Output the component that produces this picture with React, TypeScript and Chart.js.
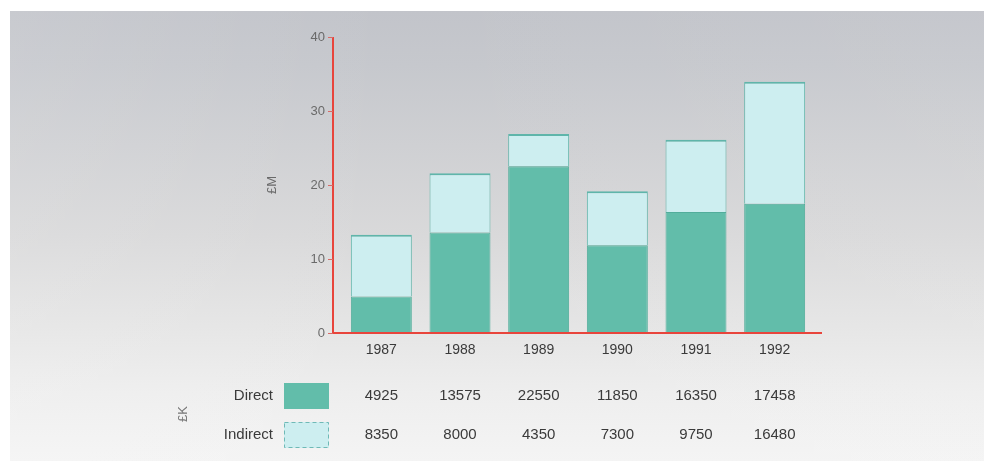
import React, { useEffect, useRef } from "react";
import { Chart, registerables } from "chart.js";

Chart.register(...registerables);

const years = ["1987", "1988", "1989", "1990", "1991", "1992"];
const directK = [4925, 13575, 22550, 11850, 16350, 17458];
const indirectK = [8350, 8000, 4350, 7300, 9750, 16480];
const seriesNames = ["Direct", "Indirect"];
const yMin = 0;
const yMax = 40;
const yStep = 10;
const yTitle = "£M";
const tableTitle = "£K";

const DIRECT_BG = "#62bdaa";
const DIRECT_BORDER = "#52ad9b";
const INDIRECT_BG = "#cdeef0";
const INDIRECT_BORDER = "#5fb5aa";
const RED = "#e8453c";
const FONT = "'Liberation Sans', Arial, sans-serif";

const backgroundPlugin = {
  id: "scanBackground",
  beforeDraw(chart: any) {
    const ctx = chart.ctx;
    const w = chart.width;
    const h = chart.height;
    ctx.save();
    ctx.fillStyle = "#ffffff";
    ctx.fillRect(0, 0, w, h);
    const g = ctx.createLinearGradient(0, 11, 0, h);
    g.addColorStop(0, "#c2c4ca");
    g.addColorStop(0.12, "#c6c8cd");
    g.addColorStop(0.3, "#cfd0d3");
    g.addColorStop(0.5, "#d9d9da");
    g.addColorStop(0.7, "#e5e5e5");
    g.addColorStop(0.85, "#eeeeee");
    g.addColorStop(1, "#f4f4f4");
    ctx.fillStyle = g;
    ctx.fillRect(10, 11, w - 10, h - 11);
    const hg = ctx.createLinearGradient(10, 0, w, 0);
    hg.addColorStop(0, "rgba(255,255,255,0.10)");
    hg.addColorStop(0.4, "rgba(255,255,255,0)");
    hg.addColorStop(1, "rgba(255,255,255,0.06)");
    ctx.fillStyle = hg;
    ctx.fillRect(10, 11, w - 10, h - 11);
    ctx.restore();
  },
};

const overlayPlugin = {
  id: "axesAndTable",
  afterDatasetsDraw(chart: any) {
    const ctx = chart.ctx;
    const xs = chart.scales.x;
    const ys = chart.scales.y;
    const y0 = ys.getPixelForValue(yMin);
    const yTop = ys.getPixelForValue(yMax);
    const axisX = xs.left - 9;
    ctx.save();
    // red axes
    ctx.strokeStyle = RED;
    ctx.lineWidth = 2;
    ctx.beginPath();
    ctx.moveTo(axisX, yTop);
    ctx.lineTo(axisX, y0);
    ctx.lineTo(xs.right + 8, y0);
    ctx.stroke();
    // tick marks
    ctx.lineWidth = 1;
    ctx.strokeStyle = "#d86a66";
    for (let v = yMin; v <= yMax; v += yStep) {
      const py = Math.round(ys.getPixelForValue(v)) + 0.5;
      ctx.beginPath();
      ctx.moveTo(axisX - 5, py);
      ctx.lineTo(axisX, py);
      ctx.stroke();
    }
    // y title
    ctx.fillStyle = "#6a6a6a";
    ctx.font = `13px ${FONT}`;
    ctx.textAlign = "center";
    ctx.textBaseline = "middle";
    ctx.translate(272, ys.getPixelForValue(20));
    ctx.rotate(-Math.PI / 2);
    ctx.fillText(yTitle, 0, 0);
    ctx.restore();

    // table
    ctx.save();
    const rows = [directK, indirectK];
    const rowY = [396, 435];
    ctx.font = `15px ${FONT}`;
    ctx.textBaseline = "middle";
    rows.forEach((vals, r) => {
      ctx.fillStyle = "#3a3a3a";
      ctx.textAlign = "right";
      ctx.fillText(seriesNames[r], 273, rowY[r]);
      // swatch
      const sx = 284;
      const sy = rowY[r] - 13;
      if (r === 0) {
        ctx.fillStyle = DIRECT_BG;
        ctx.fillRect(sx, sy, 45, 26);
      } else {
        ctx.fillStyle = INDIRECT_BG;
        ctx.fillRect(sx, sy, 45, 26);
        ctx.strokeStyle = "#6fb9b6";
        ctx.lineWidth = 1;
        ctx.setLineDash([4, 3]);
        ctx.strokeRect(sx + 0.5, sy + 0.5, 44, 25);
        ctx.setLineDash([]);
      }
      ctx.fillStyle = "#3a3a3a";
      ctx.textAlign = "center";
      vals.forEach((v, i) => {
        ctx.fillText(String(v), xs.getPixelForValue(i), rowY[r]);
      });
    });
    ctx.fillStyle = "#777777";
    ctx.font = `13px ${FONT}`;
    ctx.translate(183, 414);
    ctx.rotate(-Math.PI / 2);
    ctx.textAlign = "center";
    ctx.fillText(tableTitle, 0, 0);
    ctx.restore();
  },
};

export default function App() {
  const ref = useRef<HTMLCanvasElement | null>(null);
  useEffect(() => {
    if (!ref.current) return;
    const chart = new Chart(ref.current, {
      type: "bar",
      data: {
        labels: years,
        datasets: [
          {
            label: seriesNames[0],
            data: directK.map((v) => v / 1000),
            backgroundColor: DIRECT_BG,
            borderColor: DIRECT_BORDER,
            borderWidth: 1,
            borderSkipped: "bottom",
          },
          {
            label: seriesNames[1],
            data: indirectK.map((v) => v / 1000),
            backgroundColor: INDIRECT_BG,
            borderColor: INDIRECT_BORDER,
            borderWidth: { top: 2, left: 1, right: 1, bottom: 0 },
            borderSkipped: "bottom",
          },
        ],
      },
      options: {
        responsive: false,
        animation: false,
        devicePixelRatio: 1,
        layout: { padding: { left: 0, right: 170, top: 37, bottom: 98 } },
        plugins: { legend: { display: false }, tooltip: { enabled: false } },
        datasets: { bar: { barPercentage: 0.775, categoryPercentage: 1 } },
        scales: {
          x: {
            stacked: true,
            grid: { display: false, drawTicks: false },
            border: { display: false },
            ticks: {
              color: "#3a3a3a",
              font: { family: FONT, size: 14 },
              padding: 9,
            },
            afterFit: (s: any) => {
              s.height = 30;
            },
          },
          y: {
            stacked: true,
            min: yMin,
            max: yMax,
            grid: { display: false, drawTicks: false },
            border: { display: false },
            ticks: {
              stepSize: yStep,
              color: "#6a6a6a",
              font: { family: FONT, size: 13 },
              padding: 17,
            },
            afterFit: (s: any) => {
              s.width = 342;
            },
          },
        },
      },
      plugins: [backgroundPlugin, overlayPlugin],
    });
    return () => chart.destroy();
  }, []);
  return (
    <div style={{ position: "absolute", left: 0, top: 0, width: 984, height: 461 }}>
      <canvas ref={ref} width={984} height={461} style={{ display: "block" }} />
    </div>
  );
}
